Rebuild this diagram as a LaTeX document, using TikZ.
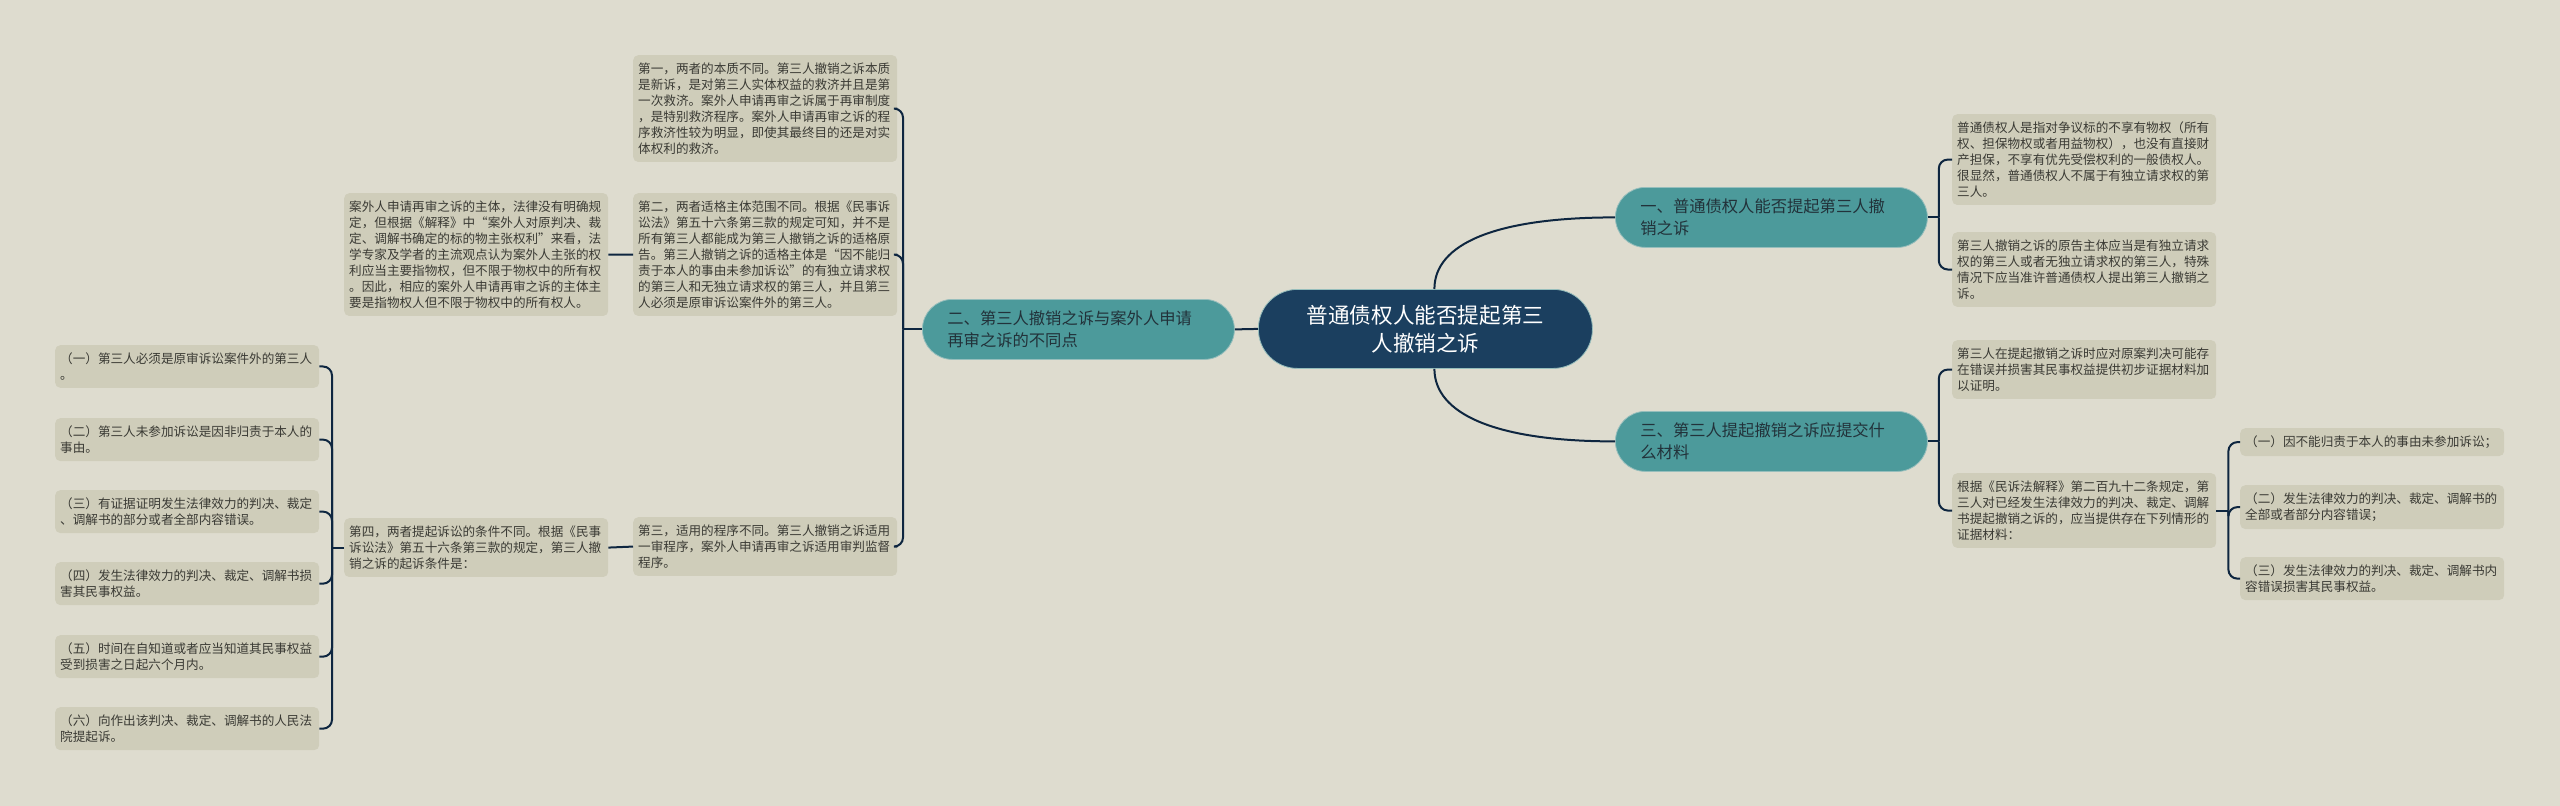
\documentclass[tikz,border=0pt]{standalone}
\usepackage{fontspec}
\setmainfont{Noto Sans CJK SC}
\usepackage{xcolor}
\usepackage{tikz}
\definecolor{bgcol}{RGB}{222,220,207}
\definecolor{leafcol}{RGB}{207,205,186}
\definecolor{leaftext}{RGB}{58,58,52}
\definecolor{tealcol}{RGB}{76,154,155}
\definecolor{tealedge}{RGB}{150,190,188}
\definecolor{branchtext}{RGB}{34,50,58}
\definecolor{rootcol}{RGB}{27,63,95}
\definecolor{linkcol}{RGB}{14,38,64}
\tikzstyle{leaf} = [rectangle, rounded corners=5pt, fill=leafcol, text=leaftext, text width=254pt, align=left, inner xsep=5pt, inner ysep=7.5pt, anchor=north west, font=\fontsize{12.6}{16}\selectfont]
\tikzstyle{branch} = [rectangle, rounded corners=30pt, fill=tealcol, draw=tealedge, line width=0.8pt, text=branchtext, text width=262pt, align=left, inner xsep=25pt, minimum height=60pt, anchor=north west, font=\fontsize{16.3}{22}\selectfont]
\tikzstyle{root} = [rectangle, rounded corners=39pt, fill=rootcol, draw=tealedge, line width=0.8pt, text=white, text width=290pt, align=center, inner xsep=22pt, minimum height=79pt, anchor=north west, font=\fontsize{21.6}{28}\selectfont]
\tikzstyle{link} = [draw=linkcol, line width=2pt]
\tikzstyle{fork} = [link, rounded corners=9pt]

\begin{document}
\begin{tikzpicture}[x=1pt, y=-1pt]

\fill[bgcol] (0,0) rectangle (2560,806);
\useasboundingbox (0,0) rectangle (2560,806);

% Main blocks
\node (root) [root] at (1258,289) {普通债权人能否提起第三\\人撤销之诉};
\node (b1) [branch] at (1615,187) {一、普通债权人能否提起第三人撤\\销之诉};
\node (b2) [branch] at (922,299) {二、第三人撤销之诉与案外人申请\\再审之诉的不同点};
\node (b3) [branch] at (1615,411) {三、第三人提起撤销之诉应提交什\\么材料};

% Right side
\node (l1) [leaf] at (1952,114) {普通债权人是指对争议标的不享有物权（所有\\权、担保物权或者用益物权），也没有直接财\\产担保，不享有优先受偿权利的一般债权人。\\很显然，普通债权人不属于有独立请求权的第\\三人。};
\node (l2) [leaf] at (1952,232) {第三人撤销之诉的原告主体应当是有独立请求\\权的第三人或者无独立请求权的第三人，特殊\\情况下应当准许普通债权人提出第三人撤销之\\诉。};
\node (r3) [leaf] at (1952,340) {第三人在提起撤销之诉时应对原案判决可能存\\在错误并损害其民事权益提供初步证据材料加\\以证明。};
\node (r4) [leaf] at (1952,473) {根据《民诉法解释》第二百九十二条规定，第\\三人对已经发生法律效力的判决、裁定、调解\\书提起撤销之诉的，应当提供存在下列情形的\\证据材料：};
\node (s1) [leaf] at (2240,428) {（一）因不能归责于本人的事由未参加诉讼；};
\node (s2) [leaf] at (2240,485) {（二）发生法律效力的判决、裁定、调解书的\\全部或者部分内容错误；};
\node (s3) [leaf] at (2240,557) {（三）发生法律效力的判决、裁定、调解书内\\容错误损害其民事权益。};

% Left side
\node (p1) [leaf] at (633,55) {第一，两者的本质不同。第三人撤销之诉本质\\是新诉，是对第三人实体权益的救济并且是第\\一次救济。案外人申请再审之诉属于再审制度\\，是特别救济程序。案外人申请再审之诉的程\\序救济性较为明显，即使其最终目的还是对实\\体权利的救济。};
\node (p2) [leaf] at (633,193) {第二，两者适格主体范围不同。根据《民事诉\\讼法》第五十六条第三款的规定可知，并不是\\所有第三人都能成为第三人撤销之诉的适格原\\告。第三人撤销之诉的适格主体是“因不能归\\责于本人的事由未参加诉讼”的有独立请求权\\的第三人和无独立请求权的第三人，并且第三\\人必须是原审诉讼案件外的第三人。};
\node (p3) [leaf] at (633,517) {第三，适用的程序不同。第三人撤销之诉适用\\一审程序，案外人申请再审之诉适用审判监督\\程序。};
\node (q1) [leaf] at (344,193) {案外人申请再审之诉的主体，法律没有明确规\\定，但根据《解释》中“案外人对原判决、裁\\定、调解书确定的标的物主张权利”来看，法\\学专家及学者的主流观点认为案外人主张的权\\利应当主要指物权，但不限于物权中的所有权\\。因此，相应的案外人申请再审之诉的主体主\\要是指物权人但不限于物权中的所有权人。};
\node (q2) [leaf] at (344,518) {第四，两者提起诉讼的条件不同。根据《民事\\诉讼法》第五十六条第三款的规定，第三人撤\\销之诉的起诉条件是：};
\node (c1) [leaf] at (55,345) {（一）第三人必须是原审诉讼案件外的第三人\\。};
\node (c2) [leaf] at (55,418) {（二）第三人未参加诉讼是因非归责于本人的\\事由。};
\node (c3) [leaf] at (55,490) {（三）有证据证明发生法律效力的判决、裁定\\、调解书的部分或者全部内容错误。};
\node (c4) [leaf] at (55,562) {（四）发生法律效力的判决、裁定、调解书损\\害其民事权益。};
\node (c5) [leaf] at (55,635) {（五）时间在自知道或者应当知道其民事权益\\受到损害之日起六个月内。};
\node (c6) [leaf] at (55,707) {（六）向作出该判决、裁定、调解书的人民法\\院提起诉。};

% Junctions
\coordinate (j1) at ([xshift=11pt]b1.east);
\coordinate (j2) at ([xshift=-19pt]b2.west);
\coordinate (j3) at ([xshift=11pt]b3.east);
\coordinate (j4) at ([xshift=12pt]r4.east);
\coordinate (j5) at ([xshift=-12pt]q2.west);

% Connectors
\draw [link] ([xshift=9pt]root.north) .. controls +(0,-45) and +(-120,0) .. (b1.west);
\draw [link] ([xshift=9pt]root.south) .. controls +(0,45) and +(-120,0) .. (b3.west);
\draw [link] (root.west) -- (b2.east);

\draw [link] (b1.east) -- (j1);
\foreach \n in {l1,l2} \draw [fork] (j1) |- (\n.west);
\draw [link] (b3.east) -- (j3);
\foreach \n in {r3,r4} \draw [fork] (j3) |- (\n.west);
\draw [link] (r4.east) -- (j4);
\foreach \n in {s1,s2,s3} \draw [fork] (j4) |- (\n.west);

\draw [link] (b2.west) -- (j2);
\foreach \n in {p1,p2,p3} \draw [fork] (j2) |- (\n.east);
\draw [link] (p2.west) -- (q1.east);
\draw [link] (p3.west) -- (q2.east);
\draw [link] (q2.west) -- (j5);
\foreach \n in {c1,c2,c3,c4,c5,c6} \draw [fork] (j5) |- (\n.east);

\end{tikzpicture}
\end{document}
